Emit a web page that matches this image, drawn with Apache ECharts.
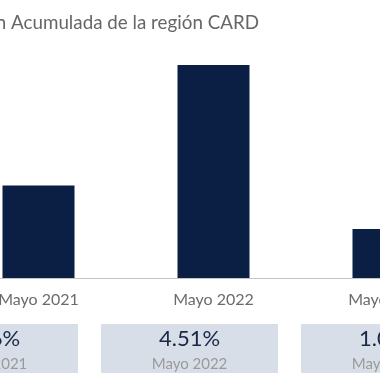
<!DOCTYPE html>
<html>
<head>
<meta charset="utf-8">
<script src="https://cdn.jsdelivr.net/npm/echarts@6/dist/echarts.min.js"></script>
<style>html,body{margin:0;padding:0;background:#fff}#c{width:380px;height:380px}</style>
</head>
<body>
<div id="c"></div>
<script>
const titleText = 'Inflación Acumulada de la región CARD';
const categories = ['Mayo 2021', 'Mayo 2022', 'Mayo 2023'];
const values = [1.96, 4.51, 1.04];
const FONT = 'Lato';

const chart = echarts.init(document.getElementById('c'), null, {renderer: 'canvas'});
chart.setOption({
  animation: false,
  backgroundColor: '#ffffff',
  title: {
    text: titleText,
    right: 116,
    top: 8,
    padding: 5,
    textStyle: {fontFamily: FONT, fontSize: 18.8, fontWeight: 'normal', color: '#666666'}
  },
  grid: [
    {left: -49, width: 525, top: 41.9, bottom: 102, containLabel: false, outerBoundsMode: 'none'},
    {left: -110.5, width: 600, top: 324, height: 49, containLabel: false, outerBoundsMode: 'none'}
  ],
  xAxis: [
    {
      type: 'category', gridIndex: 0, data: categories,
      axisLine: {show: true, lineStyle: {color: '#c4c4c4', width: 1}},
      axisTick: {show: false},
      axisLabel: {margin: 14, fontFamily: FONT, fontSize: 16, color: '#6b6b6b'}
    },
    {
      type: 'category', gridIndex: 1, data: categories,
      axisLine: {show: false}, axisTick: {show: false}, axisLabel: {show: false}
    }
  ],
  yAxis: [
    {type: 'value', gridIndex: 0, min: 0, max: 5, show: false, splitLine: {show: false}},
    {type: 'value', gridIndex: 1, min: 0, max: 1, show: false, splitLine: {show: false}}
  ],
  series: [
    {
      type: 'bar', xAxisIndex: 0, yAxisIndex: 0, data: values,
      barWidth: 72,
      itemStyle: {color: '#0b1f44'}
    },
    {
      type: 'bar', xAxisIndex: 1, yAxisIndex: 1,
      data: values.map(() => 1),
      barWidth: 177,
      itemStyle: {color: '#d7dee7'},
      label: {
        show: true, position: 'inside', offset: [0, 3],
        formatter: (p) => '{v|' + values[p.dataIndex].toFixed(2) + '%}\n{c|' + categories[p.dataIndex] + '}',
        rich: {
          v: {fontFamily: FONT, fontSize: 22, color: '#1a2847', lineHeight: 25},
          c: {fontFamily: FONT, fontSize: 15, color: '#9a9a9a', lineHeight: 25}
        }
      }
    }
  ]
});
</script>
</body>
</html>
